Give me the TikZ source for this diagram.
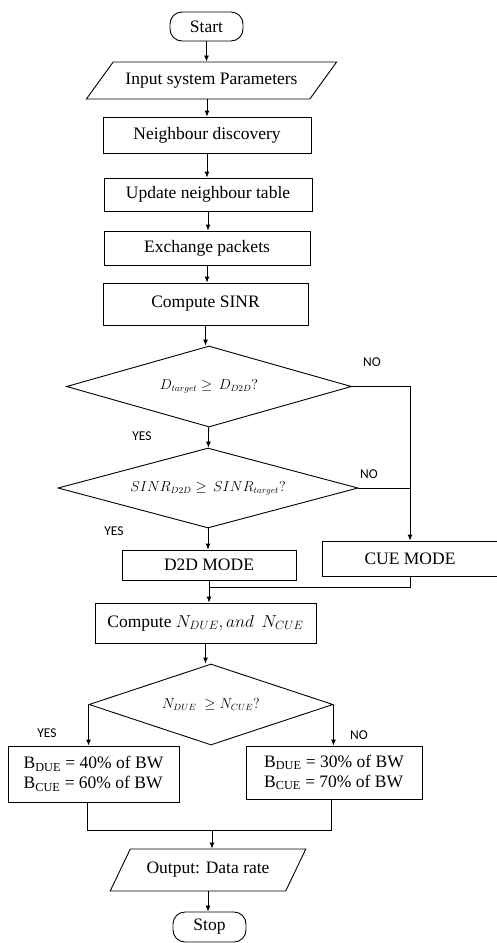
\documentclass[tikz,border=0pt]{standalone}
\usepackage{fontspec}
\setmainfont{Liberation Serif}
\newfontfamily\yesnofont{Carlito}
\usetikzlibrary{shapes.geometric,arrows.meta}
\tikzset{
  box/.style={draw, rectangle, inner sep=1pt, font=\fontsize{17.5}{20}\selectfont},
  term/.style={box, rounded corners=12pt, minimum width=73pt, minimum height=29pt},
  io/.style={draw, trapezium, trapezium stretches=true, inner sep=1pt, font=\fontsize{17.5}{20}\selectfont},
  test/.style={draw, diamond, aspect=3.5, inner sep=0pt, font=\fontsize{13.5}{15}\selectfont},
  yn/.style={font=\yesnofont\fontsize{13.5}{15}\selectfont},
  arr/.style={-{Latex[length=6pt,width=5pt]}}
}
\begin{document}
\begin{tikzpicture}[x=1pt, y=-1pt, line width=0.9pt]
\useasboundingbox (0,0) rectangle (496,943);
\node[term] (start) at (206.5,26.5) {Start};
\node[io, trapezium left angle=36, trapezium right angle=144, minimum width=251pt, minimum height=37pt] (inp) at (211.5,80.5) {Input system Parameters};
\node[box, minimum width=208pt, minimum height=36pt] (disc) at (207,135) {Neighbour discovery};
\node[box, minimum width=208pt, minimum height=33pt] (table) at (208,194.5) {Update neighbour table};
\node[box, minimum width=206pt, minimum height=34pt] (pkts) at (207,248) {Exchange packets};
\node[box, minimum width=205pt, minimum height=42pt] (sinr) at (205.5,304) {Compute SINR};
\node[test, minimum width=285pt, minimum height=81pt] (dist) at (209,386.5) {$D_{target} \geq\, D_{D2D}?$};
\node[test, minimum width=300pt, minimum height=80pt] (thr) at (208,488) {$SINR_{D2D} \geq\, SINR_{target}?$};
\node[box, minimum width=174pt, minimum height=30pt] (dmode) at (209,565) {D2D MODE};
\node[box, minimum width=176pt, minimum height=35pt] (cmode) at (410,558.5) {CUE MODE};
\node[box, minimum width=221pt, minimum height=40pt] (count) at (205.5,623) {Compute $N_{DUE}, and\;\, N_{CUE}$};
\node[test, minimum width=244pt, minimum height=81pt] (cmp) at (211,704.5) {$N_{DUE}\;\geq N_{CUE}?$};
\node[box, align=left, minimum width=171pt, minimum height=56pt] (bwyes) at (93.5,774) {B\textsubscript{DUE} = 40\% of BW\\B\textsubscript{CUE} = 60\% of BW};
\node[box, align=left, minimum width=176pt, minimum height=53pt] (bwno) at (334,772.5) {B\textsubscript{DUE} = 30\% of BW\\B\textsubscript{CUE} = 70\% of BW};
\node[io, trapezium left angle=47, trapezium right angle=133, minimum width=196pt, minimum height=42pt] (out) at (208,870) {Output: Data rate};
\node[term, minimum height=30pt] (stop) at (209.5,927) {Stop};

\node[yn] (no1) at (372,362) {NO};
\node[yn] (yes1) at (142,436) {YES};
\node[yn] (no2) at (369,474) {NO};
\node[yn] (yes2) at (114,531) {YES};
\node[yn] (yes3) at (47,733) {YES};
\node[yn] (no3) at (359,735) {NO};

\coordinate (jmode) at (209,587);
\coordinate (jl) at (87,830);
\coordinate (jr) at (331,830);
\coordinate (jout) at (212,830);

\draw[arr] (start) -- (start |- inp.north);
\draw[arr] (disc |- inp.south) -- (disc);
\draw[arr] (disc) -- (disc |- table.north);
\draw[arr] (table) -- (table |- pkts.north);
\draw[arr] (pkts) -- (pkts |- sinr.north);
\draw[arr] (sinr) -- (sinr |- dist.north);
\draw[arr] (dist) -- (thr);
\draw[arr] (dist.east) -| (cmode.north);
\draw (thr.east) -- (thr.east -| cmode);
\draw[arr] (thr) -- (thr |- dmode.north);
\draw (dmode) -- (jmode);
\draw (cmode) |- (jmode);
\draw[arr] (jmode) -- (jmode |- count.north);
\draw[arr] (count) -- (count |- cmp.north);
\draw[arr] (cmp.west) -- (cmp.west |- bwyes.north);
\draw[arr] (cmp.east) -- (cmp.east |- bwno.north);
\draw (jl |- bwyes.south) -- (jl) -- (jr) -- (jr |- bwno.south);
\draw[arr] (jout) -- (jout |- out.north);
\draw[arr] (out.south) -- (out.south |- stop.north);
\end{tikzpicture}
\end{document}
